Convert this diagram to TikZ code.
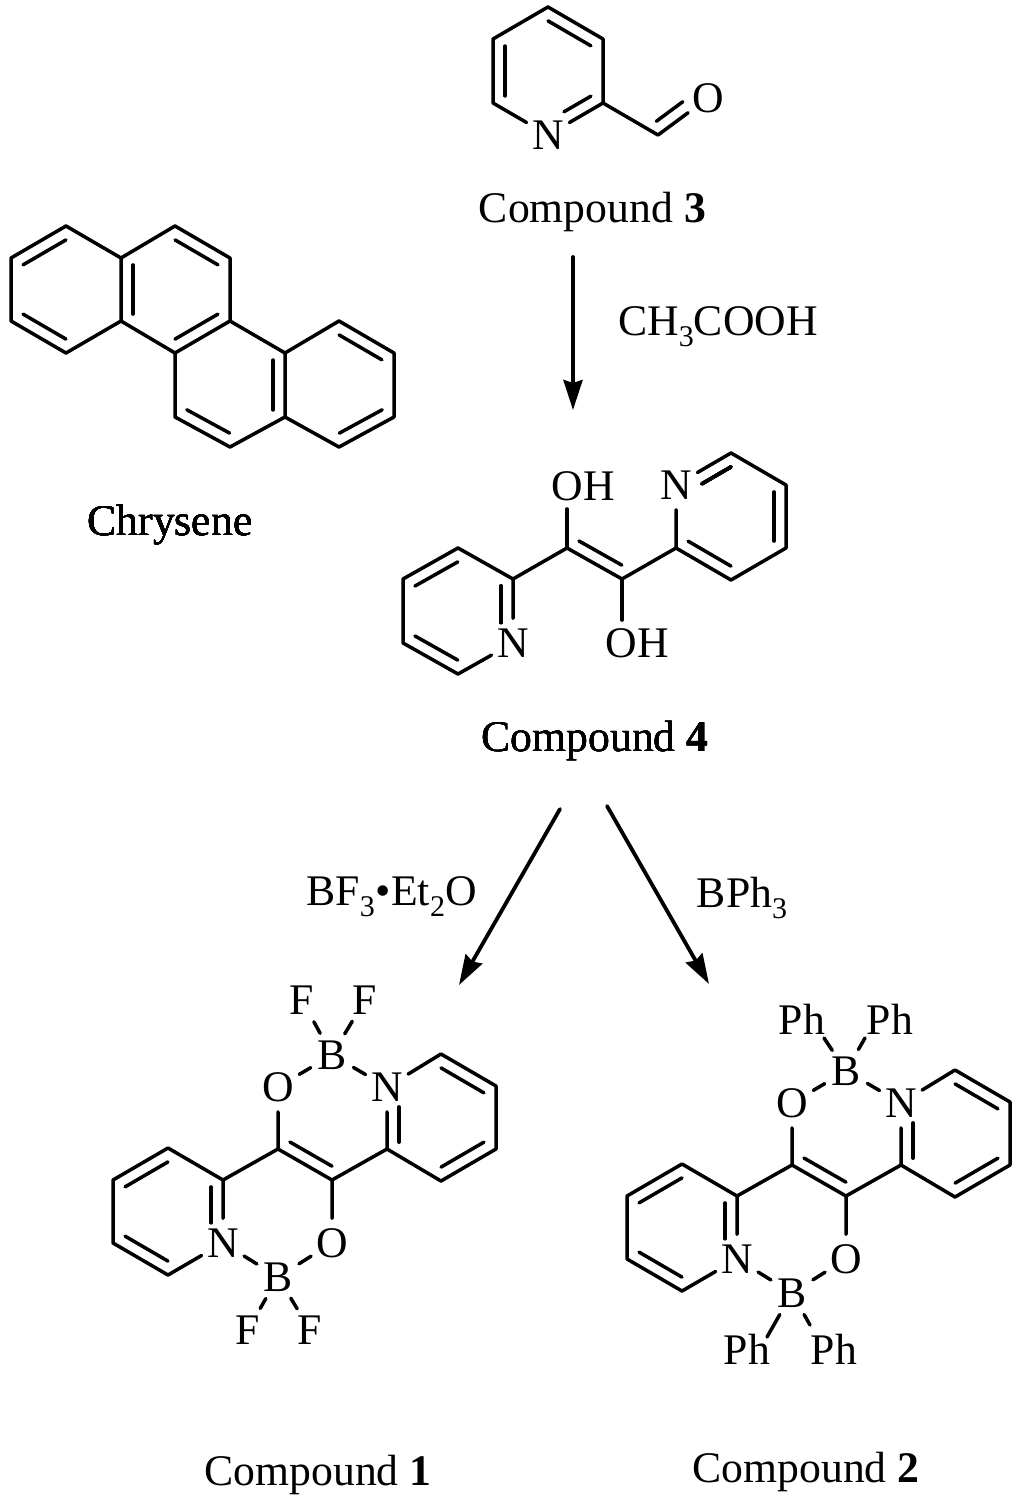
\documentclass[tikz,border=0pt]{standalone}
\usepackage{fontspec}
\setmainfont{Liberation Serif}
\usetikzlibrary{calc,arrows.meta}
\newcommand{\sbs}[1]{\raisebox{-.27em}{\fontsize{30}{30}\selectfont #1}}
% second line of a double bond, on the right going a -> b
\newcommand{\inbond}[4]{\draw ($(#1)!#3!(#2)!12pt!-90:(#2)$) -- ($(#1)!#4!(#2)!12pt!90:(#1)$);}
\tikzset{
    every node/.style={font=\fontsize{43.7}{50}\selectfont},
    atom/.style={circle, inner sep=0pt, minimum size=46pt},
    group/.style={inner sep=6.5pt},
    title/.style={anchor=base, inner sep=0pt},
    reaction/.style={line width=3.8pt, -{Stealth[length=30pt,width=19pt,inset=3pt]}}
}
\begin{document}
\begin{tikzpicture}[x=1pt, y=-1pt, line width=3.5pt, line cap=round, line join=round]
    \fill[white] (0,0) rectangle (1024,1512);

    % chrysene
    \foreach \n/\x/\y in {1/11/258, 2/66/226, 3/121/258, 4/121/321, 5/66/353, 6/11/321,
        7/175/226, 8/230/258, 9/230/321, 10/175/353, 11/285/353, 12/285/417,
        13/230/447, 14/175/417, 15/339/321, 16/394/353, 17/394/417, 18/339/447}
        \coordinate (ch\n) at (\x,\y);
    \draw (ch1) -- (ch2) -- (ch3) -- (ch4) -- (ch5) -- (ch6) -- cycle;
    \draw (ch3) -- (ch7) -- (ch8) -- (ch9) -- (ch10) -- (ch4);
    \draw (ch9) -- (ch11) -- (ch12) -- (ch13) -- (ch14) -- (ch10);
    \draw (ch11) -- (ch15) -- (ch16) -- (ch17) -- (ch18) -- (ch12);
    \foreach \a/\b in {1/2, 5/6, 4/3, 7/8, 9/10, 11/12, 13/14, 15/16, 17/18}
        \inbond{ch\a}{ch\b}{.11}{.89}
    \node[title] (chrysene) at (170,535) {Chrysene};

    % compound 3
    \foreach \n/\x/\y in {1/548/7, 2/603/39, 3/603/103, 4/493/103, 5/493/39, 6/658/135}
        \coordinate (al\n) at (\x,\y);
    \node[atom] (aln) at (548,135) {N};
    \node[atom] (alo) at (708,98) {O};
    \draw (al3) -- (al2) -- (al1) -- (al5) -- (al4) -- (aln) -- (al3) -- (al6) -- (alo);
    \inbond{al1}{al2}{.11}{.89}
    \inbond{al4}{al5}{.11}{.89}
    \inbond{al3}{aln}{.11}{.6}
    \inbond{alo}{al6}{.36}{.89}
    \node[title] (comp3) at (592.5,222) {Compound \textbf{3}};

    % compound 4
    \foreach \n/\x/\y in {1/403/579, 2/458/548, 3/513/579, 4/458/674, 5/403/643,
        6/567/548, 7/622/579, 8/676/548, 9/731/453, 10/786/485, 11/786/548, 12/731/580}
        \coordinate (di\n) at (\x,\y);
    \node[atom] (din1) at (513,643) {N};
    \node[atom] (din2) at (676,485) {N};
    \node[group] (dioh1) at (583,486) {OH};
    \node[group] (dioh2) at (637,643) {OH};
    \draw (din1) -- (di3) -- (di2) -- (di1) -- (di5) -- (di4) -- (din1);
    \draw (di3) -- (di6) -- (di7) -- (di8) -- (di12) -- (di11) -- (di10) -- (di9) -- (din2) -- (di8);
    \draw (di6) -- (dioh1.south -| di6);
    \draw (di7) -- (dioh2.north -| di7);
    \foreach \a/\b in {1/2, 4/5, 7/6, 10/11, 12/8}
        \inbond{di\a}{di\b}{.11}{.89}
    \inbond{di3}{din1}{.11}{.68}
    \inbond{din2}{di9}{.36}{.89}
    \node[title] (comp4) at (595,751) {Compound \textbf{4}};

    % compounds 1 and 2 have the same skeleton
    \foreach \pre/\dx/\dy in {a/0/0, b/514/16} {
        \begin{scope}[shift={(\dx,\dy)}]
            \foreach \n/\x/\y in {r1/441/1054, r2/496/1086, r3/496/1149, r4/441/1181, r5/387/1149,
                m1/278/1149, m2/332/1180, l1/223/1180, l2/168/1275, l3/113/1243, l4/113/1180, l5/168/1148}
                \coordinate (\pre\n) at (\x,\y);
            \node[atom] (\pre n1) at (387,1087) {N};
            \node[atom] (\pre n2) at (223,1243) {N};
            \node[atom] (\pre o1) at (278,1087) {O};
            \node[atom] (\pre o2) at (332,1243) {O};
            \node[atom] (\pre b1) at (332,1055) {B};
            \node[atom] (\pre b2) at (278,1277) {B};
            \draw (\pre n1) -- (\pre r1) -- (\pre r2) -- (\pre r3) -- (\pre r4) -- (\pre r5) -- (\pre n1);
            \draw (\pre n2) -- (\pre l2) -- (\pre l3) -- (\pre l4) -- (\pre l5) -- (\pre l1) -- (\pre n2);
            \draw (\pre l1) -- (\pre m1) -- (\pre m2) -- (\pre r5);
            \draw (\pre m1) -- (\pre o1) -- (\pre b1) -- (\pre n1);
            \draw (\pre m2) -- (\pre o2) -- (\pre b2) -- (\pre n2);
            \inbond{\pre r1}{\pre r2}{.11}{.89}
            \inbond{\pre r3}{\pre r4}{.11}{.89}
            \inbond{\pre r5}{\pre n1}{.11}{.68}
            \inbond{\pre m2}{\pre m1}{.11}{.89}
            \inbond{\pre l1}{\pre n2}{.11}{.68}
            \inbond{\pre l2}{\pre l3}{.11}{.89}
            \inbond{\pre l4}{\pre l5}{.11}{.89}
        \end{scope}
    }

    % substituents on boron
    \node[atom] (af1) at (302,1000) {F};
    \node[atom] (af2) at (365,1000) {F};
    \node[atom] (af3) at (248,1330) {F};
    \node[atom] (af4) at (310,1330) {F};
    \draw (ab1) -- (af1);
    \draw (ab1) -- (af2);
    \draw (ab2) -- (af3);
    \draw (ab2) -- (af4);
    \node (bph1) at (802,1019) {Ph};
    \node (bph2) at (890,1019) {Ph};
    \node (bph3) at (747,1349) {Ph};
    \node (bph4) at (834,1349) {Ph};
    \coordinate (bend1) at (824,1038);
    \coordinate (bend2) at (865,1038);
    \coordinate (bend3) at (767,1337);
    \coordinate (bend4) at (810,1325);
    \draw (bb1) -- (bend1);
    \draw (bb1) -- (bend2);
    \draw (bb2) -- (bend3);
    \draw (bb2) -- (bend4);
    \node[title] (comp1) at (318,1485) {Compound \textbf{1}};
    \node[title] (comp2) at (806,1482) {Compound \textbf{2}};

    % reactions
    \coordinate (s1) at (573,257);
    \coordinate (e1) at (573,410);
    \coordinate (s2) at (560,809);
    \coordinate (e2) at (459,985);
    \coordinate (s3) at (607,806);
    \coordinate (e3) at (709,984);
    \draw[reaction] (s1) -- (e1);
    \draw[reaction] (s2) -- (e2);
    \draw[reaction] (s3) -- (e3);
    \node[title] (acid) at (718,335) {CH\sbs{3}COOH};
    \node[title] (bf) at (391.5,905) {BF\sbs{3}\hspace{1pt}\textbullet Et\sbs{2}O};
    \node[title] (bph) at (742,907) {BPh\sbs{3}};
\end{tikzpicture}
\end{document}
